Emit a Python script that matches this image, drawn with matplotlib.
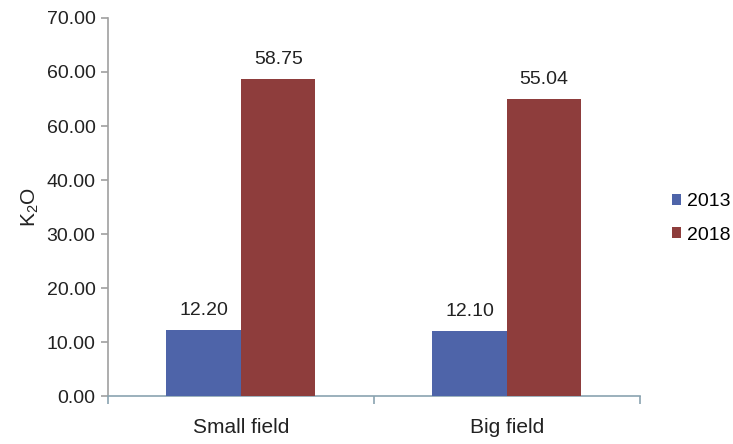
import numpy as np
import matplotlib
matplotlib.use("Agg")
import matplotlib.pyplot as plt

fields = ["Small field", "Big field"]
years = ["2013", "2018"]
k2o_2013 = [12.20, 12.10]
k2o_2018 = [58.75, 55.04]
ytick_values = [0, 10, 20, 30, 40, 50, 60, 70]
ytick_labels = ["0.00", "10.00", "20.00", "30.00", "40.00", "60.00", "60.00", "70.00"]

colors = ["#4e64a9", "#8e3d3c"]


def make_plot():
    plt.rcParams["font.family"] = ["Liberation Sans", "DejaVu Sans"]
    plt.rcParams["mathtext.default"] = "regular"

    fig = plt.figure(figsize=(7.33, 4.44), dpi=100)
    ax = fig.add_axes([0.1473, 0.108, 0.7257, 0.8515])

    x = np.arange(len(fields))
    width = 0.28
    series = [k2o_2013, k2o_2018]
    for i, (vals, year) in enumerate(zip(series, years)):
        bars = ax.bar(x + (i - 0.5) * width, vals, width, color=colors[i],
                      label=year, zorder=3)
        for b, v in zip(bars, vals):
            ax.annotate(f"{v:.2f}", (b.get_x() + b.get_width() / 2, v),
                        xytext=(0, 8), textcoords="offset points",
                        ha="center", va="bottom", fontsize=14, color="#222222")

    ax.set_xlim(-0.5, 1.5)
    ax.set_ylim(0, 70)
    ax.set_yticks(ytick_values)
    ax.set_yticklabels(ytick_labels)
    ax.set_xticks(x)
    ax.set_xticklabels(fields)
    ax.set_xticks([-0.5, 0.5, 1.5], minor=True)

    ax.tick_params(axis="y", direction="out", length=5, width=1.2,
                   color="#a0a0a0", labelsize=14, labelcolor="#222222", pad=4)
    ax.tick_params(axis="x", which="major", length=0, labelsize=15,
                   labelcolor="#222222", pad=16)
    ax.tick_params(axis="x", which="minor", direction="out", length=6,
                   width=1.2, color="#8aa3b0")

    for side in ["top", "right"]:
        ax.spines[side].set_visible(False)
    ax.spines["left"].set_color("#a0a0a0")
    ax.spines["left"].set_linewidth(1.2)
    ax.spines["bottom"].set_color("#8aa3b0")
    ax.spines["bottom"].set_linewidth(1.2)

    ax.set_ylabel("K$_2$O", fontsize=15, color="#222222", labelpad=4)

    ax.legend(loc="center left", bbox_to_anchor=(0.903, 0.508),
              bbox_transform=fig.transFigure, frameon=False, fontsize=14,
              handlelength=0.5, handleheight=0.5, handletextpad=0.3,
              labelspacing=0.85, borderpad=0)

    fig.savefig("out.png", dpi=100)


if __name__ == "__main__":
    make_plot()
